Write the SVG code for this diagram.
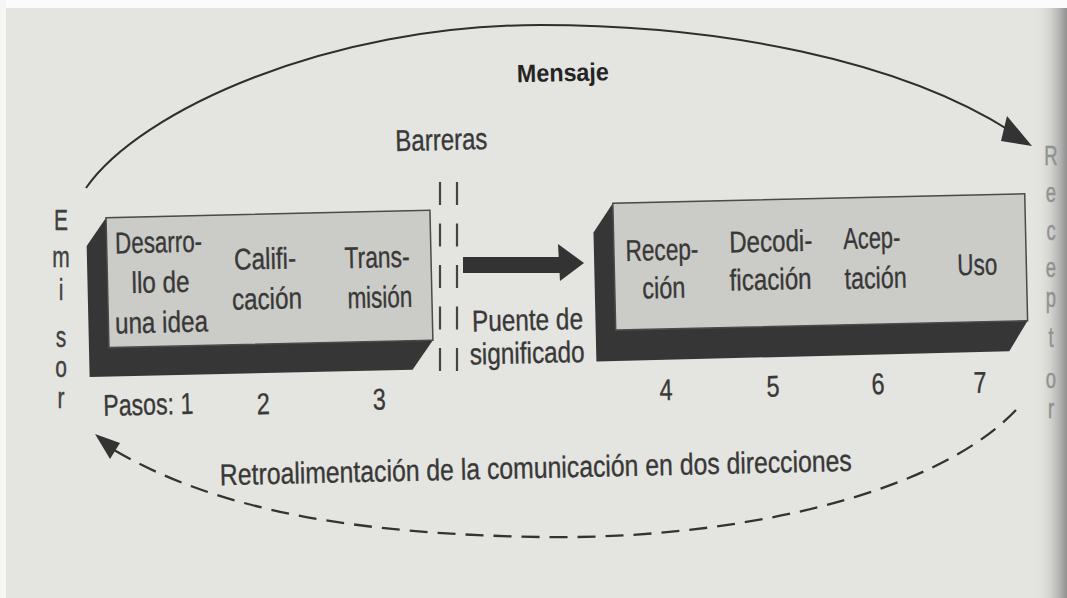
<svg xmlns="http://www.w3.org/2000/svg" width="1067" height="598" viewBox="0 0 1067 598">
<defs>
<linearGradient id="gutter" x1="0" x2="1" y1="0" y2="0">
<stop offset="0" stop-color="#e4e4e0" stop-opacity="0"/>
<stop offset="0.5" stop-color="#d2d2cf"/>
<stop offset="0.8" stop-color="#b0b0ae"/>
<stop offset="1" stop-color="#909090"/>
</linearGradient>
<style>
.t{font-family:"Liberation Sans",Arial,sans-serif;font-size:30px;fill:#383838;stroke:#383838;stroke-width:0.35;text-anchor:middle}
.b{font-family:"Liberation Sans",Arial,sans-serif;font-size:25px;font-weight:bold;fill:#242424;text-anchor:middle}
.v{font-family:"Liberation Sans",Arial,sans-serif;font-size:30px;fill:#404040;stroke:#404040;stroke-width:0.4;text-anchor:middle}
.r{font-family:"Liberation Sans",Arial,sans-serif;font-size:28px;fill:#929292;stroke:#929292;stroke-width:0.5;text-anchor:middle}
.face{fill:#cbcbc7;stroke:#4a4a4a;stroke-width:1.5}
.side{fill:#363636}
.line{fill:none;stroke:#2e2e2e;stroke-width:2}
.dash{fill:none;stroke:#333;stroke-width:2.3;stroke-dasharray:18 10}
.bar{fill:none;stroke:#444;stroke-width:2.2;stroke-dasharray:23 18.5}
.head{fill:#333}
</style>
</defs>

<rect x="0" y="0" width="1067" height="598" fill="#e4e4e0"/>
<rect x="0" y="0" width="1067" height="8" fill="#fbfbfb"/>
<rect x="0" y="0" width="6" height="598" fill="#f6f6f4"/>
<rect x="1034" y="8" width="33" height="590" fill="url(#gutter)"/>

<g id="connectors">
  <path class="line" d="M86,188 C140,110 330,25 540,25 C720,25 900,60 1012,132"/>
  <polygon class="head" points="1032,146 1007,116 1001,141"/>
  <path class="dash" d="M1016,410 C930,500 720,540 540,537 C360,534 220,512 114,450"/>
  <polygon class="head" points="95,434 120,443 110,459"/>
  <rect class="head" x="463" y="257" width="97" height="16"/>
  <polygon class="head" points="558,244 584,263 560,281"/>
</g>

<g id="barreras-lines">
  <line class="bar" x1="440" y1="182" x2="440" y2="374"/>
  <line class="bar" x1="457" y1="182" x2="457" y2="374"/>
</g>

<g id="emisor" transform="translate(61 0) scale(0.7 1)">
  <text class="v"><tspan x="0" y="230">E</tspan><tspan x="0" y="267">m</tspan><tspan x="0" y="300">i</tspan><tspan x="0" y="347">s</tspan><tspan x="0" y="377">o</tspan><tspan x="0" y="408">r</tspan></text>
</g>

<g id="receptor" transform="translate(1051 0) scale(0.66 1)">
  <text class="r"><tspan x="0" y="165">R</tspan><tspan x="0" y="202">e</tspan><tspan x="0" y="240">c</tspan><tspan x="0" y="277">e</tspan><tspan x="0" y="307">p</tspan><tspan x="0" y="347">t</tspan><tspan x="0" y="388">o</tspan><tspan x="0" y="418">r</tspan></text>
</g>

<g transform="rotate(-1.3 533 300)">
  <g id="mensaje">
    <text class="b" x="568" y="82" textLength="92" lengthAdjust="spacingAndGlyphs">Mensaje</text>
  </g>
  <g id="barreras">
    <text class="t" x="445" y="148" textLength="92" lengthAdjust="spacingAndGlyphs">Barreras</text>
  </g>

  <g id="emisor-box">
    <polygon class="side" points="108,208 88,236 88,367 411,367 432,338 432,208"/>
    <rect class="face" x="108" y="208" width="324" height="130"/>
    <text class="t" x="160" y="244" textLength="87" lengthAdjust="spacingAndGlyphs">Desarro-</text>
    <text class="t" x="161" y="284" textLength="58" lengthAdjust="spacingAndGlyphs">llo de</text>
    <text class="t" x="161" y="324" textLength="93" lengthAdjust="spacingAndGlyphs">una idea</text>
    <text class="t" x="266" y="263" textLength="62" lengthAdjust="spacingAndGlyphs">Califi-</text>
    <text class="t" x="267" y="303" textLength="70" lengthAdjust="spacingAndGlyphs">cación</text>
    <text class="t" x="378" y="264" textLength="65" lengthAdjust="spacingAndGlyphs">Trans-</text>
    <text class="t" x="380" y="304" textLength="65" lengthAdjust="spacingAndGlyphs">misión</text>
  </g>

  <g id="receptor-box">
    <polygon class="side" points="615,205 595,234 595,363 1008,362 1027,332 1027,205"/>
    <rect class="face" x="615" y="205" width="412" height="127"/>
    <text class="t" x="663" y="263" textLength="73" lengthAdjust="spacingAndGlyphs">Recep-</text>
    <text class="t" x="664" y="301" textLength="43" lengthAdjust="spacingAndGlyphs">ción</text>
    <text class="t" x="772" y="257" textLength="83" lengthAdjust="spacingAndGlyphs">Decodi-</text>
    <text class="t" x="771" y="295" textLength="82" lengthAdjust="spacingAndGlyphs">ficación</text>
    <text class="t" x="873" y="256" textLength="57" lengthAdjust="spacingAndGlyphs">Acep-</text>
    <text class="t" x="876" y="296" textLength="62" lengthAdjust="spacingAndGlyphs">tación</text>
    <text class="t" x="978" y="285" textLength="40" lengthAdjust="spacingAndGlyphs">Uso</text>
  </g>

  <g id="puente">
    <text class="t" x="527" y="330" textLength="111" lengthAdjust="spacingAndGlyphs">Puente de</text>
    <text class="t" x="526" y="363" textLength="115" lengthAdjust="spacingAndGlyphs">significado</text>
  </g>

  <g id="pasos">
    <text class="t" x="146" y="406" textLength="90" lengthAdjust="spacingAndGlyphs">Pasos: 1</text>
    <text class="t" x="261" y="408" textLength="13" lengthAdjust="spacingAndGlyphs">2</text>
    <text class="t" x="377" y="406" textLength="13" lengthAdjust="spacingAndGlyphs">3</text>
    <text class="t" x="664" y="403" textLength="13" lengthAdjust="spacingAndGlyphs">4</text>
    <text class="t" x="771" y="402" textLength="13" lengthAdjust="spacingAndGlyphs">5</text>
    <text class="t" x="876" y="402" textLength="13" lengthAdjust="spacingAndGlyphs">6</text>
    <text class="t" x="978" y="403" textLength="13" lengthAdjust="spacingAndGlyphs">7</text>
  </g>

  <g id="retro">
    <text class="t" x="532" y="478" textLength="632" lengthAdjust="spacingAndGlyphs">Retroalimentación de la comunicación en dos direcciones</text>
  </g>
</g>
</svg>
